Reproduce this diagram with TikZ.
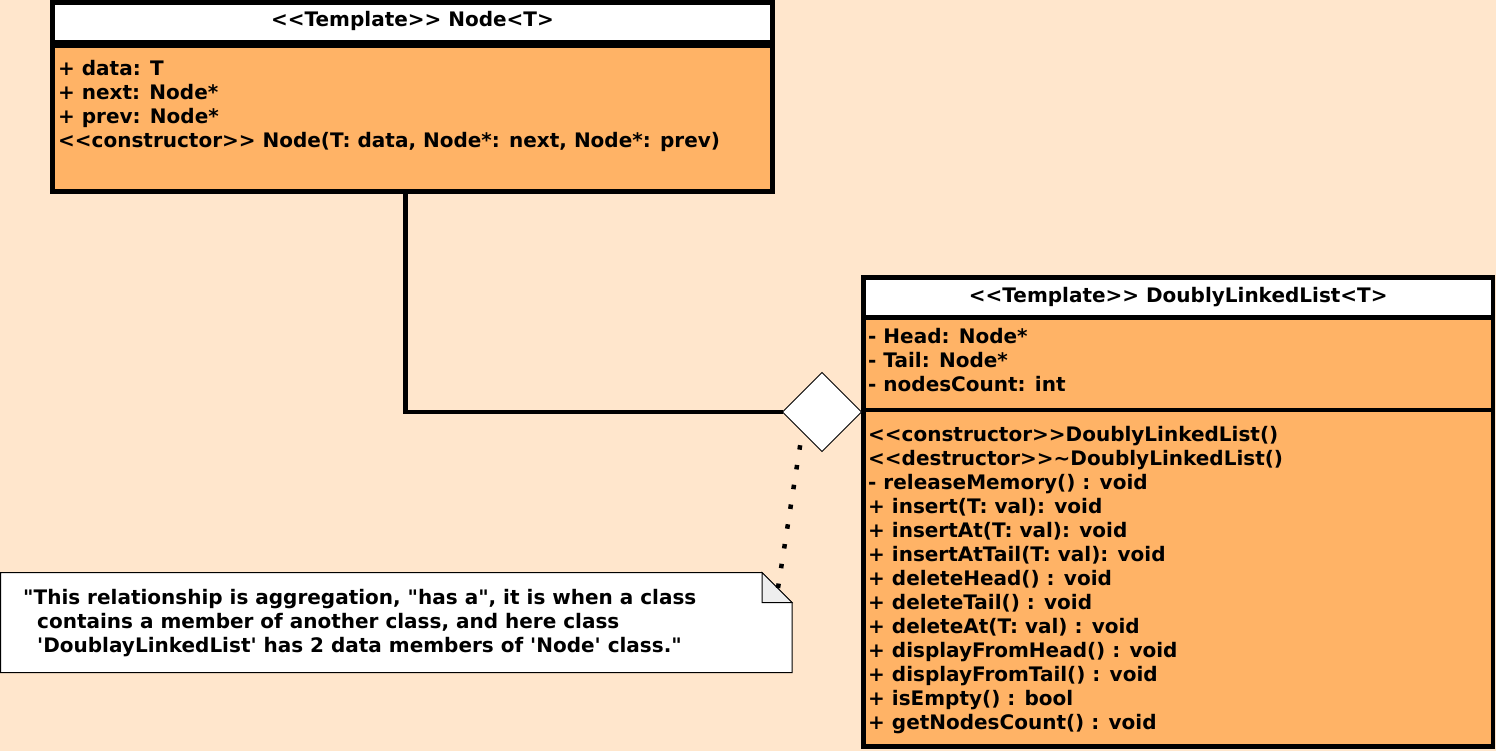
\documentclass[tikz,border=0pt]{standalone}
\usepackage{fontspec}
\setmainfont{DejaVu Sans}[Ligatures=TeXOff]
\usetikzlibrary{shapes.geometric}

\definecolor{peach}{HTML}{FFE6CC}
\definecolor{classorange}{HTML}{FFB366}
\definecolor{foldgrey}{HTML}{EEEEEE}

\begin{document}
\begin{tikzpicture}[x=1pt,y=-1pt,
  compart/.style={draw,line width=4.5pt,fill=classorange,anchor=north west,inner sep=0pt,outer sep=0pt},
  headbox/.style={compart,fill=white},
  member/.style={anchor=base west,inner sep=0pt,font=\fontsize{20}{24}\selectfont\bfseries},
  headtext/.style={member,anchor=base},
  link/.style={line width=4.5pt},
  dotlink/.style={line width=4.5pt,dash pattern=on 4.5pt off 15.5pt},
  aggdiamond/.style={diamond,draw,fill=white,line width=1pt,minimum width=79pt,minimum height=79pt,inner sep=0pt,outer sep=0pt}]

\useasboundingbox (0,0) rectangle (1496,751);
\fill[peach] (0,0) rectangle (1496,751);

% Node<T>
\node[headbox,minimum width=720pt,minimum height=39.5pt] (nodehead) at (52.5,2.5) {};
\node[compart,minimum width=720pt,minimum height=145.5pt] (nodebody) at (52.5,46) {};
\node[headtext] (nodetitle) at (412.5,27) {<<Template>> Node<T>};
\foreach \txt [count=\i] in {{+ data: T},{+ next: Node*},{+ prev: Node*},
    {<<constructor>> Node(T: data, Node*: next, Node*: prev)}}
  \node[member] (nodeattr\i) at (58,52+24*\i) {\txt};

% DoublyLinkedList<T>
\node[headbox,minimum width=629.5pt,minimum height=40pt] (dllhead) at (863.5,277.5) {};
\node[compart,minimum width=629.5pt,minimum height=92.5pt] (dllattrs) at (863.5,317.5) {};
\node[compart,minimum width=629.5pt,minimum height=336.5pt] (dllops) at (863.5,410) {};
\node[headtext] (dlltitle) at (1178.25,302) {<<Template>> DoublyLinkedList<T>};
\foreach \txt [count=\i] in {{- Head: Node*},{- Tail: Node*},{- nodesCount: int}}
  \node[member] (dllattr\i) at (868,319+24*\i) {\txt};
\foreach \txt [count=\i] in {{<<constructor>>DoublyLinkedList()},
    {<<destructor>>\textasciitilde DoublyLinkedList()},
    {- releaseMemory() : void},{+ insert(T: val): void},{+ insertAt(T: val): void},
    {+ insertAtTail(T: val): void},{+ deleteHead() : void},{+ deleteTail() : void},
    {+ deleteAt(T: val) : void},{+ displayFromHead() : void},{+ displayFromTail() : void},
    {+ isEmpty() : bool},{+ getNodesCount() : void}}
  \node[member] (dllop\i) at (868,417+24*\i) {\txt};

% aggregation
\node[aggdiamond] (agg) at (822,412) {};
\draw[link] ([xshift=-7pt]nodebody.south) |- (agg.west);

% note
\filldraw[fill=white,line width=1pt] (0.5,572.5) -- (762,572.5) -- (792,602.5) -- (792,672.5) -- (0.5,672.5) -- cycle;
\filldraw[fill=foldgrey,line width=1pt] (762,572.5) -- (792,602.5) -- (762,602.5) -- cycle;
\coordinate (notefold) at (778,588);
\draw[dotlink] (notefold) -- (agg.south west);
\foreach \x/\y/\txt [count=\i] in {
    23/604/{\textquotedbl This relationship is aggregation, \textquotedbl has a\textquotedbl, it is when a class},
    37/628/{contains a member of another class, and here class},
    37/652/{\textquotesingle DoublayLinkedList\textquotesingle\ has 2 data members of \textquotesingle Node\textquotesingle\ class.\textquotedbl}}
  \node[member] (notetext\i) at (\x,\y) {\txt};

\end{tikzpicture}
\end{document}
